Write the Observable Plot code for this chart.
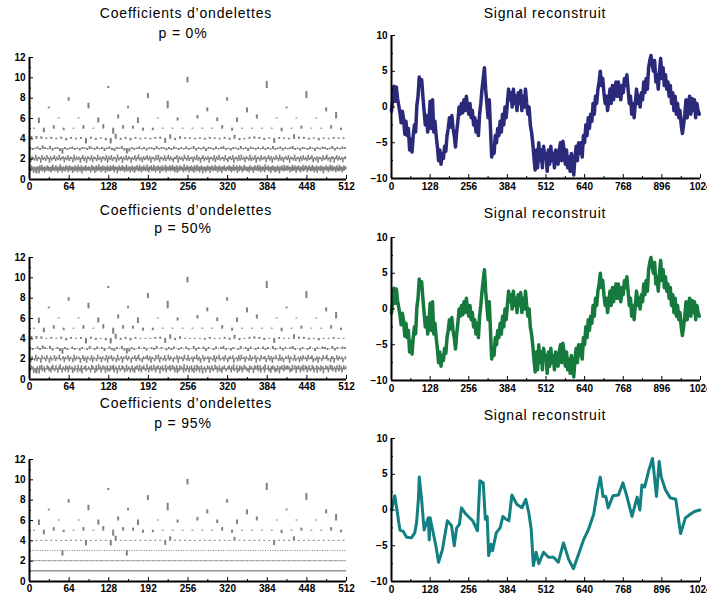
<!DOCTYPE html>
<html>
<head>
<meta charset="utf-8">
<script src="https://cdn.jsdelivr.net/npm/d3@7"></script>
<script src="https://cdn.jsdelivr.net/npm/@observablehq/plot@0.6"></script>
<style>
  html, body { margin: 0; padding: 0; background: #fff; overflow: hidden; }
  #page { position: relative; width: 707px; height: 597px; background: #fff; }
  .panel { position: absolute; }
  .title {
    position: absolute; text-align: center; white-space: pre;
    font: 14px "Liberation Sans", Arial, sans-serif; letter-spacing: 0.8px;
    line-height: 16px; color: #000;
  }
</style>
</head>
<body>
<div id="page"></div>
<script>
// Share of wavelet coefficients set to zero in each row
const pValues = [0, 50, 95];

// Detail coefficients per level (level 1 = finest, 512 values ... level 10 = coarsest, 1 value),
// in the display units of the coefficient plot (bar length above/below its level line).
const level1 = [
  .15,-.2,.1,.3,-.15,-.1,.2,-.35,.15,.1,-.3,.15,-.4,.2,-.1,.15,-.4,.3,.1,-.15,.35,-.2,.15,-.1,.2,-.3,.1,.15,-.15,.3,-.1,.2,
  -.2,.1,.15,-.3,.2,-.15,.35,-.1,.15,-.2,.1,.3,-.15,.15,-.35,.1,.2,-.15,.4,-.1,.15,-.3,.1,.2,-.15,.1,-.2,.3,.15,-.1,.2,-.3,
  .1,.3,-.15,.15,-.1,.2,-.35,.15,.1,-.2,.3,-.15,.1,.15,-.3,.35,-.1,.15,-.2,.1,.3,-.4,.15,.1,-.15,.2,-.1,.3,-.2,.15,.1,-.15,
  .2,-.1,.15,-.3,.1,.35,-.15,.2,-.1,.15,-.35,.1,.3,-.2,.15,-.1,.4,-.15,.1,.2,-.3,.15,-.1,.3,-.15,.1,.2,-.35,.15,-.1,.3,-.2,
  .15,.1,-.2,.3,-.15,.1,.2,-.1,.35,-.3,.15,-.1,.2,.1,-.4,.15,-.15,.3,.1,-.2,.15,-.1,.3,-.15,.2,.1,-.3,.15,-.1,.35,-.2,.1,
  -.15,.2,.1,-.3,.15,-.1,.3,-.2,.1,.15,-.35,.2,-.1,.15,.3,-.15,.1,-.2,.35,-.1,.15,-.3,.2,.1,-.15,.3,-.1,.15,-.2,.1,.4,-.15,
  .1,-.3,.2,-.1,.15,.3,-.2,.1,-.15,.35,-.1,.15,-.3,.2,.1,-.15,.3,-.1,.15,-.4,.2,.1,-.15,.3,-.2,.1,.15,-.1,.35,-.3,.15,-.1,
  .2,-.15,.1,.3,-.2,.15,-.1,.35,-.15,.1,.2,-.3,.15,-.1,.3,-.35,.1,.15,-.2,.3,-.1,.15,.2,-.15,.1,-.3,.4,-.1,.15,-.2,.1,.3,
  -.1,.15,-.3,.2,.1,-.15,.3,-.2,.15,.1,-.35,.3,-.1,.15,-.2,.35,.1,-.15,.2,-.3,.15,-.1,.3,.1,-.4,.15,-.15,.2,.1,-.3,.15,-.1,
  .3,-.15,.1,.2,-.35,.15,-.1,.3,.1,-.2,.15,-.1,.35,-.15,.1,.2,-.3,.15,-.1,.3,-.2,.1,.15,-.35,.2,-.1,.15,.3,-.15,.1,-.2,.15,
  .1,.2,-.15,.3,-.1,.15,-.3,.2,.1,-.15,.4,-.2,.1,.15,-.1,.3,-.35,.15,.1,-.2,.3,-.1,.15,.2,-.3,.1,-.15,.35,-.1,.15,.2,-.15,
  -.2,.15,.1,-.3,.3,-.1,.15,.2,-.15,.1,-.35,.15,.3,-.1,.2,-.15,.1,.35,-.2,.15,-.1,.3,-.3,.1,.15,-.15,.2,.1,-.3,.4,-.1,.15,
  .15,-.1,.3,-.2,.1,.15,-.35,.2,-.1,.3,.1,-.15,.2,-.3,.15,.1,-.2,.3,-.1,.15,-.4,.2,.1,-.15,.3,-.1,.15,-.2,.35,-.15,.1,.2,
  -.15,.3,-.1,.15,.2,-.3,.1,.15,-.2,.35,-.1,.15,-.15,.3,.1,-.35,.2,-.1,.15,.3,-.15,.1,-.3,.2,.1,-.15,.35,-.2,.15,-.1,.3,.1,
  .2,-.3,.15,-.1,.3,.1,-.2,.15,-.15,.35,-.1,.2,-.3,.1,.15,-.15,.3,-.35,.1,.2,-.1,.15,-.2,.3,.1,-.15,.2,-.4,.15,.1,-.1,.3,
  -.15,.1,.2,-.3,.15,-.1,.35,-.15,.1,.3,-.2,.15,-.1,.2,.1,-.3,.15,.3,-.15,.1,-.2,.35,-.1,.15,.2,-.3,.1,-.15,.3,-.1,.15,.2
];
const level2 = [
  .15,-.3,.2,.1,-.15,.35,-.2,.15,.1,-.35,.3,-.1,.15,-.2,.3,.1,-.35,.2,-.15,.1,.3,-.2,.15,-.1,.35,-.15,.1,.2,-.3,.15,-.1,.3,
  -.2,.15,.1,-.3,.35,-.15,.2,-.1,.15,-.35,.1,.3,-.2,.15,-.35,.2,.1,-.15,.3,-.3,.15,.1,-.2,.35,-.1,.15,-.3,.2,.1,-.15,.3,-.35,
  .2,-.1,.3,-.2,.15,.1,-.3,.35,-.15,.1,.2,-.35,.15,-.1,.3,-.15,.2,.1,-.35,.15,-.1,.3,-.2,.15,.35,-.15,.1,-.3,.2,-.1,.15,.3,
  -.15,.2,-.35,.15,.1,-.2,.3,-.1,.35,-.3,.15,.1,-.15,.3,-.2,.1,.35,-.15,.2,-.1,-.3,.15,.1,.3,-.35,.2,-.1,.15,-.2,.35,.1,-.15,
  .3,-.2,.1,.15,-.3,.2,-.1,.35,-.15,.15,-.35,.1,.3,-.2,.15,-.1,.2,-.35,.15,.1,-.15,.3,-.3,.2,-.1,.35,-.15,.1,.15,-.2,.3,-.1,
  -.3,.15,.2,-.1,.3,-.35,.1,.15,-.2,.3,-.15,.35,-.1,.15,-.3,.2,.1,-.15,.35,-.2,.15,-.1,.3,-.35,.15,.1,-.2,.3,-.1,.15,.2,-.3,
  .1,.3,-.15,.2,-.35,.15,-.1,.3,.1,-.2,.35,-.15,.15,-.3,.1,.2,-.1,.3,-.35,.15,.1,-.15,.35,-.2,.1,.15,-.3,.2,-.15,.3,-.1,.15,
  -.2,.35,-.1,.15,.3,-.3,.1,-.15,.2,-.35,.15,.1,-.2,.3,-.1,.15,.35,-.15,.1,-.3,.2,.15,-.35,.1,.3,-.15,.2,-.1,.15,-.3,.1,.2
];
const level3 = [
  .1,-.1,.05,.15,-.1,.25,.1,-.05,.2,-.15,.05,.1,-.2,-.45,.1,-.1,
  .05,.15,-.1,.05,-.15,.1,.05,-.1,.2,.05,-.1,.15,-.05,.1,-.2,.05,
  .15,-.1,-.2,.1,.05,.2,-.15,-.45,-.25,.1,-.1,.05,.15,-.05,.1,-.15,
  .05,.1,-.1,.2,-.05,.1,.05,-.15,.1,-.1,.15,.05,-.1,.1,-.05,.15,
  -.1,.05,.2,-.15,.1,-.05,.15,-.2,.1,.05,-.1,.15,-.05,.1,.2,-.1,
  .05,-.15,.1,.05,-.1,.2,-.05,.1,-.2,.15,.05,-.1,.1,-.05,.15,-.1,
  .1,-.05,.2,-.1,.05,.15,-.15,.1,-.05,.1,.2,-.1,.05,-.15,.1,.05,
  -.1,.15,.05,-.2,.1,-.05,.15,.1,-.1,.05,.2,-.15,.1,-.05,.15,.1
];
const level4 = [
  .18,.18,.15,.05,.1,-.05,.12,-.15,.1,-.05,.08,-.45,.12,-.1,.05,-.15,
  -.45,.4,-.1,.1,-.15,.08,-.05,.05,-.05,.08,.12,-.4,.35,-.12,.15,.05,
  .05,-.05,.05,-.08,.1,.05,-.05,.1,-.1,.3,-.12,-.05,.1,.15,.1,-.12,
  .05,-.4,.08,.05,-.05,.35,.12,.1,-.08,.05,-.15,.05,-.05,.08,.05,.05
];
const level5 = [0,-.35,.25,-.15,0,.25,0,.35,-.5,.25,.2,-.2,-.15,0,0,0,0,0,0,.25,-.2,0,0,0,0,-.25,0,.2,0,0,.25,-.15];
const level6 = [-.45,0,0,-.4,.3,-.45,0,-.2,.25,-.25,-.35,.3,0,0,0,.55];
const level7 = [.07,.45,.15,.65,-.3,-.4,.07,-.3];
const level8 = [-.25,.4,-.25,.6];
const level9 = [.1,.6];
const level10 = [-.45];
const coefficientLevels = [level1, level2, level3, level4, level5, level6, level7, level8, level9, level10];

// Reconstructed signal, one value every 4 samples over 0..1020
const reconstruction0 = [
  -0.6, 1.0, 2.9, 0.8, 2.8, 1.2, 0.2, -0.8, -2.2, -0.6, -1.6, -3.8, -2.0, -4.0, -3.0, -6.0,
  -4.5, -6.3, -4.0, -2.5, -3.5, 0.2, 1.5, 4.2, 3.0, 3.8, 1.5, -0.5, -2.5, -1.2, -3.5, -2.0,
  0.8, -3.0, 1.0, -3.5, -2.0, -4.0, -5.5, -7.5, -6.0, -8.0, -6.5, -7.2, -5.5, -6.2, -4.0, -3.0,
  -1.5, -2.8, -1.2, -3.0, -4.0, -5.6, -3.5, -2.0, 0.0, -1.0, 0.5, -0.8, 1.0, -0.5, 1.5, 0.0,
  -1.0, 0.5, -1.5, -0.5, -2.5, -1.5, -3.5, -2.0, -4.0, -1.0, 0.5, 2.5, 4.0, 5.5, 2.5, 0.5,
  -1.5, 1.0, -3.0, -7.0, -5.5, -6.5, -4.0, -5.0, -3.0, -4.0, -2.0, -3.5, -1.0, -2.5, 0.0, -1.5,
  0.5, 2.5, 1.0, 2.0, 0.0, 2.5, 0.5, 1.5, -0.5, 2.0, 0.5, 2.3, -0.5, 1.5, 0.0, 2.5,
  0.5, -1.0, 0.0, -2.5, -3.5, -5.0, -7.0, -8.8, -6.0, -8.5, -5.0, -7.5, -6.0, -8.5, -5.5, -7.0,
  -6.5, -9.0, -6.0, -8.0, -5.5, -7.5, -6.5, -8.5, -6.0, -7.0, -8.0, -6.0, -5.0, -7.5, -4.8, -6.0,
  -8.0, -6.0, -8.5, -7.0, -9.0, -6.5, -8.0, -9.5, -7.0, -5.5, -7.5, -5.0, -6.5, -5.0, -7.0, -4.0,
  -5.0, -2.5, -4.0, -1.5, -3.0, -1.0, -2.0, 0.5, -1.0, 1.5, 0.5, 2.5, 3.5, 5.0, 3.0, 4.0,
  2.0, 0.5, 1.5, -0.5, 1.0, 2.5, 0.5, 3.0, 1.0, 2.5, 3.5, 1.5, 3.5, 2.0, 1.0, 3.0,
  2.0, 4.0, 3.0, 4.5, 2.5, 0.5, 1.5, -1.0, 0.5, -1.5, 0.5, 2.5, 0.5, 1.5, 0.0, 2.0,
  1.0, 3.5, 2.0, 4.0, 2.5, 5.5, 6.5, 7.2, 6.0, 5.0, 6.5, 3.5, 4.5, 2.5, 5.0, 6.8,
  4.0, 5.5, 3.0, 4.5, 2.5, 3.5, 1.5, 3.0, 0.5, 2.0, -0.5, 1.5, -1.0, 0.5, -1.5, -0.5,
  -2.5, -3.7, -2.5, -1.0, 1.0, -1.5, 0.5, 1.5, -1.0, 1.2, -0.5, 1.0, -1.5, 0.5, -0.5, -1.0
];
// Zeroing the smaller half only removes detail finer than this sampling step
const reconstruction50 = reconstruction0;
// With 95% of coefficients removed the curve is piecewise smooth: sample index / value pairs
const reconstruction95X = [0, 11, 28, 39, 50, 66, 77, 83, 89, 92, 100, 108, 116, 122, 125, 128, 134, 147, 156, 169, 185, 199, 208, 216, 225, 232, 247, 269, 285, 293, 304, 311, 317, 322, 330, 335, 347, 360, 369, 380, 389, 399, 415, 432, 445, 455, 463, 470, 479, 488, 504, 520, 537, 553, 570, 587, 603, 620, 637, 653, 670, 683, 692, 701, 710, 718, 734, 752, 767, 780, 797, 814, 823, 830, 839, 853, 865, 878, 887, 894, 908, 924, 942, 958, 974, 990, 1004, 1022];
const reconstruction95Y = [0, 2.0, -2.8, -3.0, -3.8, -3.9, -3.2, -1.8, 1.4, 4.6, 1.4, -2.8, -1.8, -1.1, -4.2, -1.1, -2.3, -5.0, -7.3, -5.5, -1.5, -2.2, -5.0, -2.5, -2.0, 0.3, -0.6, -1.5, -2.9, 4.1, 3.8, -1.3, -0.9, -6.4, -4.8, -5.7, -3.2, -2.5, -0.9, -1.3, -1.5, 2.1, 0.8, 0.3, 1.5, -0.4, -2.7, -7.8, -5.9, -7.5, -5.9, -6.6, -6.6, -7.3, -4.6, -6.9, -8.2, -6.2, -4.1, -2.7, -0.6, 2.8, 4.6, 1.9, 1.9, 0.3, 2.0, 2.1, 3.8, 1.9, -0.9, 1.8, 0, 3.5, 3.2, 5.6, 7.2, 1.9, 6.8, 4.6, 2.8, 1.7, 1.5, -3.3, -1.1, -0.6, -0.2, 0];

const coefTicks = d3.range(0, 513, 64);
const signalTicks = d3.range(0, 1025, 128);

const lineColors = ["#2b2a7a", "#16793d", "#128080"];
const GRAY = "#808080";
const tickFont = {fontFamily: "'Liberation Sans', Arial, sans-serif", fontSize: "10px", fontWeight: "bold", background: "#fff", color: "#000"};
const plain = d => String(d);

// Keep the largest (100 - p)% of coefficients; size is compared after undoing the per-level scaling
function thresholded(p) {
  const all = [];
  coefficientLevels.forEach((values, i) => {
    const level = i + 1, spacing = 2 ** i;
    values.forEach((c, k) => all.push({level, x: spacing * (k + 0.5), c, size: Math.abs(c) * 2 ** (level / 2)}));
  });
  const keep = Math.round((1 - p / 100) * all.length);
  const sizes = all.map(d => d.size).sort((a, b) => b - a);
  const cutoff = keep > 0 ? sizes[keep - 1] : Infinity;
  return all.map(d => ({...d, v: d.size >= cutoff ? d.c : 0}));
}

function coefficientPlot(p) {
  const rows = thresholded(p);
  const bars = (data, half) => Plot.rect(data, {
    x1: "x", x2: "x", y1: "level", y2: d => d.level + d.v, fill: GRAY,
    insetLeft: -half, insetRight: -half, insetTop: -0.5, insetBottom: -0.5
  });
  // zeroed fine-scale coefficients are 1px dots, kept fine-scale bars a little wider, coarse bars 2px
  const dot = d => d.v === 0 && d.level <= 3;
  const fineBar = d => d.v !== 0 && d.level <= 2;
  return Plot.plot({
    width: 357, height: 151, marginLeft: 29, marginRight: 11, marginTop: 8, marginBottom: 21,
    x: {domain: [0, 512], axis: null},
    y: {domain: [0, 12], axis: null},
    style: tickFont,
    marks: [
      bars(rows.filter(dot), 0.5),
      bars(rows.filter(fineBar), 0.8),
      bars(rows.filter(d => !dot(d) && !fineBar(d)), 1),
      Plot.axisX({ticks: coefTicks, tickSize: 0, tickPadding: 3, tickFormat: plain, label: null}),
      Plot.axisX({ticks: coefTicks, tickSize: -4, tickFormat: () => "", label: null}),
      Plot.axisX({ticks: d3.range(32, 512, 64), tickSize: -2, tickFormat: () => "", label: null}),
      Plot.axisY({ticks: d3.range(0, 13, 2), tickSize: 0, tickPadding: 4, tickFormat: plain, label: null}),
      Plot.axisY({ticks: d3.range(0, 13, 2), tickSize: -4, tickFormat: () => "", label: null}),
      Plot.axisY({ticks: d3.range(1, 12, 2), tickSize: -2, tickFormat: () => "", label: null}),
      Plot.ruleX([0], {stroke: "#000", strokeWidth: 2}),
      Plot.ruleY([0], {stroke: "#000", strokeWidth: 2})
    ]
  });
}

function signalPlot(lineMark) {
  return Plot.plot({
    width: 347, height: 172, marginLeft: 31, marginRight: 7, marginTop: 8, marginBottom: 21,
    x: {domain: [0, 1024], axis: null},
    y: {domain: [-10, 10], axis: null},
    style: tickFont,
    marks: [
      lineMark,
      Plot.axisX({ticks: signalTicks, tickSize: 0, tickPadding: 4, tickFormat: plain, label: null}),
      Plot.axisX({ticks: signalTicks, tickSize: -4, tickFormat: () => "", label: null}),
      Plot.axisX({ticks: d3.range(64, 1024, 128), tickSize: -2, tickFormat: () => "", label: null}),
      Plot.axisY({ticks: [-10, -5, 0, 5, 10], tickSize: 0, tickPadding: 4, label: null}),
      Plot.axisY({ticks: [-10, -5, 0, 5, 10], tickSize: -4, tickFormat: () => "", label: null}),
      Plot.axisY({ticks: [-7.5, -2.5, 2.5, 7.5], tickSize: -2, tickFormat: () => "", label: null}),
      Plot.ruleX([0], {stroke: "#000", strokeWidth: 2}),
      Plot.ruleY([-10], {stroke: "#000", strokeWidth: 2})
    ]
  });
}

const signalLines = [
  Plot.line(reconstruction0, {x: (d, i) => i * 4, y: d => d, stroke: lineColors[0], strokeWidth: 3.5, strokeLinejoin: "round"}),
  Plot.line(reconstruction50, {x: (d, i) => i * 4, y: d => d, stroke: lineColors[1], strokeWidth: 3.5, strokeLinejoin: "round"}),
  Plot.line(reconstruction95Y, {x: (d, i) => reconstruction95X[i], y: d => d, stroke: lineColors[2], strokeWidth: 3, strokeLinejoin: "round"})
];

// Vertical placement of each row: title centres and SVG tops
const layout = [
  {coefTitle: 13, coefSub: 33, coefTop: 49, sigTitle: 13, sigTop: 27},
  {coefTitle: 210, coefSub: 228, coefTop: 249, sigTitle: 213, sigTop: 229},
  {coefTitle: 403, coefSub: 423, coefTop: 451, sigTitle: 415, sigTop: 430}
];

const page = document.getElementById("page");
function addTitle(text, left, width, centerY) {
  const div = document.createElement("div");
  div.className = "title";
  div.textContent = text;
  div.style.left = left + "px";
  div.style.width = width + "px";
  div.style.top = (centerY - 8) + "px";
  page.appendChild(div);
}
function addPanel(svg, left, top) {
  const div = document.createElement("div");
  div.className = "panel";
  div.style.left = left + "px";
  div.style.top = top + "px";
  div.appendChild(svg);
  page.appendChild(div);
}

pValues.forEach((p, r) => {
  const L = layout[r];
  addTitle("Coefficients d’ondelettes", 0, 372, L.coefTitle);
  addTitle(`p = ${p}%`, 0, 366, L.coefSub);
  addTitle("Signal reconstruit", 383, 324, L.sigTitle);
  addPanel(coefficientPlot(p), 0, L.coefTop);
  addPanel(signalPlot(signalLines[r]), 360, L.sigTop);
});
</script>
</body>
</html>
